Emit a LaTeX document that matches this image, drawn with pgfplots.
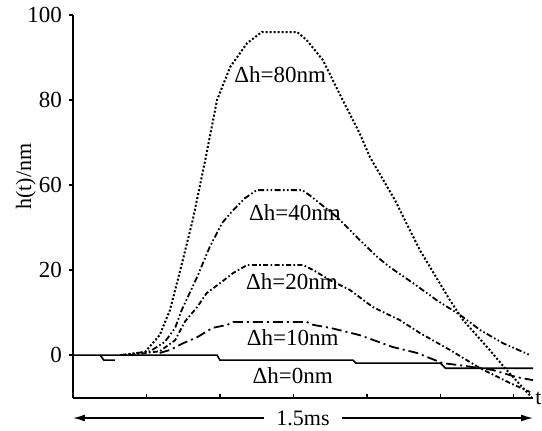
\documentclass[border=0pt]{standalone}
\usepackage{fontspec}
\setmainfont{Liberation Serif}
\usepackage{pgfplots}
\pgfplotsset{compat=1.18}
\usetikzlibrary{arrows.meta}

\begin{document}
\begin{tikzpicture}
\begin{axis}[scale only axis, width=230pt, height=191.5pt,
  xmin=0, xmax=6.26, ymin=-10.1, ymax=80,
  axis x line*=bottom, axis y line*=left,
  axis line style={line width=0.8pt},
  xtick={1,2,3,4,5,6}, xticklabels={}, xtick align=inside,
  ytick={0,20,40,60,80}, yticklabels={0,20,60,80,100}, ytick align=outside,
  major tick length=2pt, tick style={line width=0.6pt, black},
  ticklabel style={font=\fontsize{11.5}{13}\selectfont},
  /pgf/number format/assume math mode=true,
  ylabel={h(t)/nm}, ylabel style={font=\fontsize{11}{13}\selectfont, xshift=15pt, yshift=-11pt},
  clip=false]
  % dh = 0 nm
  \addplot[black, line width=0.8pt] coordinates {(0,0) (1.96,0) (2.0,-1.2) (3.81,-1.2) (3.85,-1.9) (5.0,-1.9) (5.07,-3.1) (6.26,-3.1)};
  \addplot[black, line width=0.8pt] coordinates {(0.37,0) (0.42,-1.2) (0.57,-1.2)};
  % dh = 80 nm
  \addplot[black, line width=1pt, dash pattern=on 1pt off 1pt] coordinates {
    (0.71,0) (0.98,0.7) (1.18,4.7) (1.32,10.6) (1.46,20.0) (1.63,31.8) (1.80,45.9)
    (1.96,60.0) (2.14,67.8) (2.37,73.4) (2.57,76.0) (3.05,76.0) (3.18,74.1) (3.40,69.4)
    (3.67,60.0) (3.90,52.2) (4.04,46.6) (4.38,36.5) (4.72,24.7) (5.13,12.9) (5.31,8.2)
    (5.67,1.2) (5.90,-3.5) (6.24,-9.9)};
  % dh = 40 nm
  \addplot[black, line width=0.9pt, dash pattern=on 3pt off 1.2pt on 0.8pt off 1.2pt on 0.8pt off 1.2pt] coordinates {
    (0.64,0) (1.05,0.9) (1.25,3.1) (1.39,6.4) (1.48,10.6) (1.69,18.4) (1.86,25.4)
    (2.03,31.1) (2.18,34.1) (2.34,36.9) (2.50,38.8) (3.12,38.8) (3.22,37.6) (3.59,32.5)
    (3.90,27.1) (4.14,23.1) (4.31,20.7) (4.63,16.9) (4.95,12.9) (5.27,9.4) (5.54,5.9)
    (5.85,2.8) (6.22,0)};
  % dh = 20 nm
  \addplot[black, line width=0.9pt, dash pattern=on 2.5pt off 1.2pt on 0.8pt off 1.2pt] coordinates {
    (0.78,0) (1.18,0.9) (1.39,3.5) (1.52,7.8) (1.69,11.3) (1.82,14.6) (2.00,16.9)
    (2.18,19.3) (2.37,21.2) (3.13,21.2) (3.27,20.0) (3.50,17.6) (3.77,15.3) (4.08,11.3)
    (4.45,8.2) (4.72,5.2) (5.13,1.2) (5.54,-3.1) (5.95,-6.6) (6.22,-8.7)};
  % dh = 10 nm
  \addplot[black, line width=0.9pt, dash pattern=on 5pt off 2pt on 1pt off 2pt] coordinates {
    (1.18,0.5) (1.32,1.2) (1.50,2.8) (1.69,4.2) (1.90,6.4) (2.10,7.1) (2.18,7.8)
    (3.18,7.8) (3.27,7.1) (3.50,6.4) (3.90,4.7) (4.35,1.9) (4.68,0.5) (5.03,-1.9)
    (5.27,-2.4) (5.71,-3.5) (6.04,-5.2) (6.26,-5.9)};

  \begin{scope}[font=\fontsize{11.5}{13}\selectfont]
  \node at (axis cs:2.82,65.9) {Δh=80nm};
  \node at (axis cs:3.02,33.4) {Δh=40nm};
  \node at (axis cs:2.98,17.2) {Δh=20nm};
  \node at (axis cs:2.99,4.0) {Δh=10nm};
  \node at (axis cs:2.99,-4.9) {Δh=0nm};
  \end{scope}
  \node[anchor=west, inner sep=1pt, font=\fontsize{11}{13}\selectfont] at (rel axis cs:1,0) {t};
  \draw[{Latex[length=6pt,width=3.5pt]}-{Latex[length=6pt,width=3.5pt]}, line width=0.7pt]
    ([yshift=-10pt]rel axis cs:0,0) -- ([yshift=-10pt]rel axis cs:1,0)
    node[midway, fill=white, inner xsep=6pt, inner ysep=1pt, font=\fontsize{11}{13}\selectfont] {1.5ms};
  \coordinate (ll) at (rel axis cs:0,0);
  \coordinate (ur) at (rel axis cs:1,1);
\end{axis}
\pgfresetboundingbox
\path (ll) ++(-36.5pt,-16pt) coordinate (a);
\path (ur) ++(4.5pt,7.5pt) coordinate (b);
\path (a) rectangle (b);
\end{tikzpicture}
\end{document}
